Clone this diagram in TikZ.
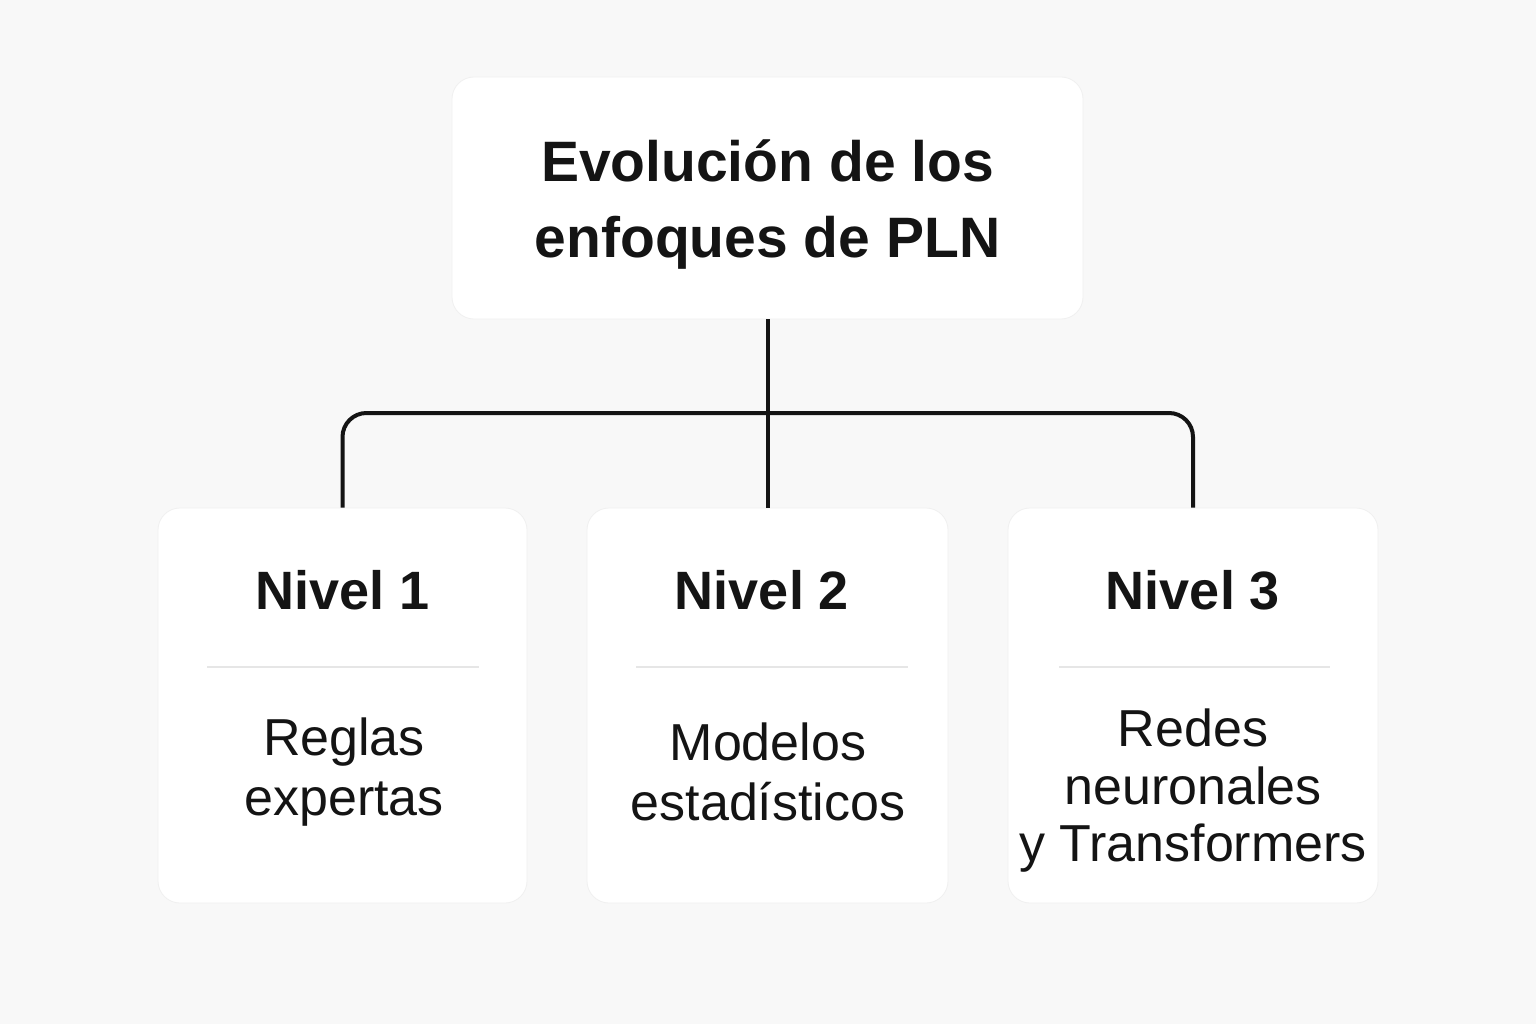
\documentclass[tikz,border=0pt]{standalone}
\usepackage{fontspec}
\setmainfont{Liberation Sans}
\definecolor{bgc}{HTML}{F8F8F8}
\definecolor{sepc}{HTML}{E6E6E6}
\definecolor{txt}{HTML}{141414}
\begin{document}
\begin{tikzpicture}[x=1pt,y=-1pt,
  card/.style={fill=white,draw=white!94!black,line width=0.8pt,rounded corners=22pt,inner sep=0pt},
  conn/.style={draw=txt,line width=4pt,rounded corners=24pt},
  sep/.style={draw=sepc,line width=2.5pt},
  ttl/.style={font=\fontsize{57}{76}\selectfont\bfseries,text=txt,align=center},
  lvl/.style={font=\fontsize{54}{60}\selectfont\bfseries,text=txt},
  bdy/.style={font=\fontsize{52}{60}\selectfont,text=txt,align=center}]
\fill[bgc] (0,0) rectangle (1536,1024);
\useasboundingbox (0,0) rectangle (1536,1024);
% boxes
\node[card,minimum width=631pt,minimum height=242pt] (top) at (767.5,198) {};
\node[card,minimum width=369pt,minimum height=395pt] (b1) at (342.5,705.5) {};
\node[card,minimum width=361pt,minimum height=395pt] (b2) at (767.5,705.5) {};
\node[card,minimum width=370pt,minimum height=395pt] (b3) at (1193,705.5) {};
% connectors
\coordinate (j) at (767.5,413);
\draw[conn] (b1.north) |- (j) -| (b3.north);
\draw[conn,rounded corners=0pt] (top.south) -- (b2.north);
% texts
\node[ttl] (tt) at (767.5,205) {Evolución de los\\enfoques de PLN};
\node[lvl] (l1) at (342.5,590) {Nivel 1};
\node[lvl] (l2) at (762,590) {Nivel 2};
\node[lvl] (l3) at (1193,590) {Nivel 3};
\draw[sep] (207,667) -- (479,667);
\draw[sep] (636,667) -- (908,667);
\draw[sep] (1059,667) -- (1330,667);
\node[bdy] (t1) at (344,772) {Reglas\\expertas};
\node[bdy] (t2) at (768,772) {Modelos\\estadísticos};
\node[bdy,font=\fontsize{52}{57.5}\selectfont] (t3) at (1193,791) {Redes\\neuronales\\y Transformers};
\end{tikzpicture}
\end{document}
